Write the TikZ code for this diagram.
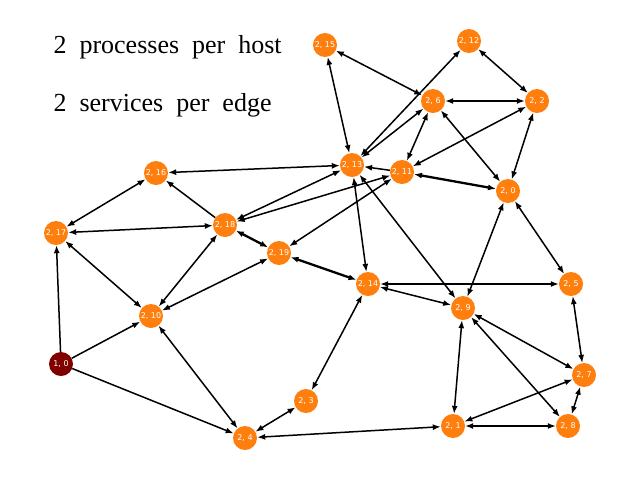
\documentclass[tikz,border=0pt]{standalone}
\usepackage{fontspec}
\setmainfont{Liberation Serif}
\newfontfamily\labelfont{DejaVu Sans}
\usetikzlibrary{arrows.meta}
\definecolor{hostorange}{RGB}{255,127,14}
\definecolor{srcred}{RGB}{128,0,0}
\begin{document}
\begin{tikzpicture}[x=1pt,y=-1pt,
  proc/.style={circle, fill=hostorange, text=white, minimum size=24pt, inner sep=0pt, font=\labelfont\fontsize{8}{8}\selectfont},
  src/.style={proc, fill=srcred},
  link/.style={line width=1.5pt, {Latex[length=8pt,width=6pt]}-{Latex[length=8pt,width=6pt]}},
  oneway/.style={line width=1.5pt, -{Latex[length=8pt,width=6pt]}},
  twin/.style={link, line width=2.3pt}]
\useasboundingbox (0,0) rectangle (640,480);
\node[anchor=base west, font=\fontsize{26}{26}\selectfont] (txt0) at (50,53) {2\enspace processes\enspace per\enspace host};
\node[anchor=base west, font=\fontsize{26}{26}\selectfont] (txt1) at (50,111) {2\enspace services\enspace per\enspace edge};
\node[src] (h10) at (61,364){1, 0};
\node[proc] (h0) at (508,191){2, 0};
\node[proc] (h1) at (453,426){2, 1};
\node[proc] (h2) at (537,101){2, 2};
\node[proc] (h3) at (306,401){2, 3};
\node[proc] (h4) at (245,438){2, 4};
\node[proc] (h5) at (571,284){2, 5};
\node[proc] (h6) at (433,101){2, 6};
\node[proc] (h7) at (584,375){2, 7};
\node[proc] (h8) at (568,426){2, 8};
\node[proc] (h9) at (463,308){2, 9};
\node[proc] (h10b) at (151,316){2, 10};
\node[proc] (h11) at (402,172){2, 11};
\node[proc] (h12) at (469,41){2, 12};
\node[proc] (h13) at (352,165){2, 13};
\node[proc] (h14) at (368,284){2, 14};
\node[proc] (h15) at (325,45){2, 15};
\node[proc] (h16) at (156,173){2, 16};
\node[proc] (h17) at (56,233){2, 17};
\node[proc] (h18) at (225,225){2, 18};
\node[proc] (h19) at (279,253){2, 19};
% source host
\draw[oneway](h10) -- (h17);
\draw[oneway](h10) -- (h10b);
\draw[oneway](h10) -- (h4);
% one way
\draw[oneway](h18) -- (h16);
\draw[oneway](h11) -- (h13);
% both ways
\draw[link](h15) -- (h6);
\draw[link](h15) -- (h13);
\draw[link](h12) -- (h13);
\draw[link](h12) -- (h2);
\draw[link](h6) -- (h2);
\draw[link](h6) -- (h13);
\draw[link](h6) -- (h11);
\draw[link](h6) -- (h0);
\draw[link](h2) -- (h11);
\draw[link](h2) -- (h0);
\draw[twin](h11) -- (h0);
\draw[link](h13) -- (h16);
\draw[link](h13) -- (h18);
\draw[link](h11) -- (h18);
\draw[link](h11) -- (h19);
\draw[link](h13) -- (h14);
\draw[link](h13) -- (h9);
\draw[link](h16) -- (h17);
\draw[link](h17) -- (h18);
\draw[link](h17) -- (h10b);
\draw[link](h18) -- (h10b);
\draw[twin](h18) -- (h19);
\draw[twin](h19) -- (h14);
\draw[link](h19) -- (h10b);
\draw[link](h14) -- (h5);
\draw[link](h14) -- (h9);
\draw[link](h14) -- (h3);
\draw[link](h0) -- (h9);
\draw[link](h0) -- (h5);
\draw[link](h5) -- (h7);
\draw[link](h9) -- (h7);
\draw[link](h9) -- (h8);
\draw[link](h9) -- (h1);
\draw[link](h7) -- (h1);
\draw[link](h7) -- (h8);
\draw[link](h1) -- (h8);
\draw[link](h1) -- (h4);
\draw[link](h10b) -- (h4);
\draw[link](h3) -- (h4);
\end{tikzpicture}
\end{document}
